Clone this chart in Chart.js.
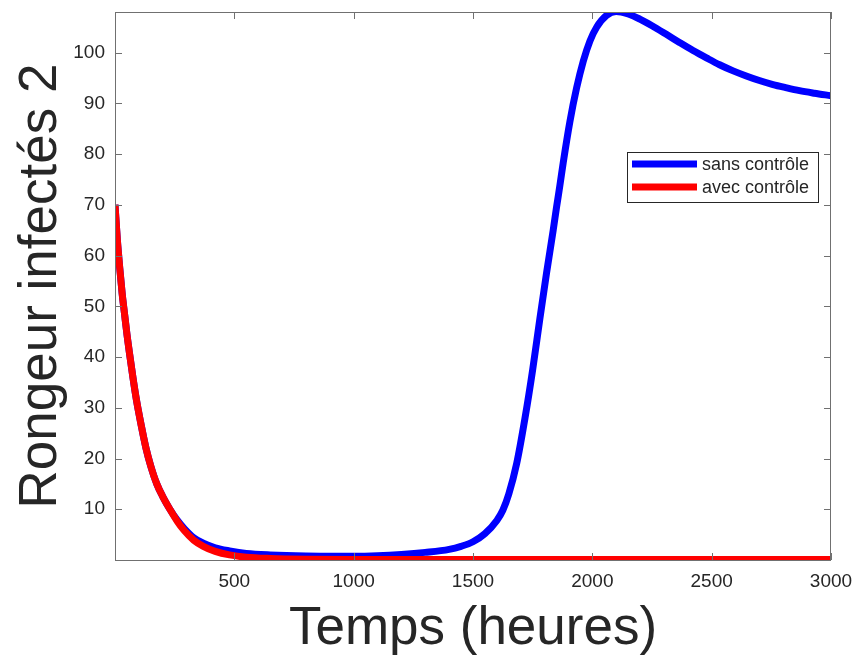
<!DOCTYPE html>
<html>
<head>
<meta charset="utf-8">
<script src="https://cdn.jsdelivr.net/npm/chart.js@4.4.1/dist/chart.umd.min.js"></script>
<style>
html,body{margin:0;padding:0;background:#fff;}
#wrap{width:860px;height:661px;}
</style>
</head>
<body>
<div id="wrap"><canvas id="c" width="860" height="661"></canvas></div>
<script>
// ---- data ----
const tempsSans = [0,10,20,30,40,50,60,75,90,110,130,150,175,200,230,260,290,330,370,420,480,550,650,800,1000,1100,1200,1300,1400,1450,1500,1550,1600,1625,1650,1683,1718,1750,1780,1808,1836,1850,1864,1878,1906,1934,1962,1990,2018,2059,2100,2150,2199,2250,2310,2365,2422,2480,2533,2590,2645,2700,2757,2810,2868,2930,3000];
const sansControle = [70,63,57.5,52.5,48.5,44.5,41,36,31.5,26.5,22,18.5,15,12.5,10,7.9,6.2,4.4,3.3,2.4,1.8,1.3,1.0,0.8,0.75,0.85,1.1,1.5,2.1,2.7,3.6,5.2,7.8,9.8,13,19,28,37.5,47.5,56.5,65,69.5,73.8,78.3,86.4,93,98.3,102.3,105,107.3,108.1,107.6,106.6,105.3,103.6,102.0,100.4,98.9,97.6,96.4,95.4,94.5,93.7,93.1,92.5,92.0,91.5];
const tempsAvec = [0,10,20,30,40,50,60,75,90,110,130,150,175,200,230,260,290,330,370,420,480,550,650,800,1000,1500,2000,2500,3000];
const avecControle = [70,63,57.5,52.5,48.5,44.5,41,36,31.5,26.5,22,18.5,15,12.5,10,7.7,5.8,3.9,2.7,1.7,1.0,0.55,0.3,0.15,0.1,0.1,0.1,0.1,0.1];
const xTicks = [500,1000,1500,2000,2500,3000];
const yTicks = [10,20,30,40,50,60,70,80,90,100];
const seriesLabels = ['sans contrôle','avec contrôle'];
const xTitle = 'Temps (heures)';
const yTitle = 'Rongeur infectés 2';

const FONT = "'Liberation Sans', Arial, Helvetica, sans-serif";
const TXT = '#262626';

function pts(xs, ys){ return xs.map((x,i)=>({x:x, y:ys[i]})); }
function noPad(s){ s.paddingTop = 0; s.paddingBottom = 0; s.paddingLeft = 0; s.paddingRight = 0; }

const boxPlugin = {
  id:'matlabBox',
  afterDraw(chart){
    const {ctx, chartArea:a, scales} = chart;
    ctx.save();
    ctx.strokeStyle = '#707070';
    ctx.lineWidth = 1;
    ctx.strokeRect(a.left+0.5, a.top+0.5, a.right-a.left-1, a.bottom-a.top);
    const tl = 7;
    ctx.beginPath();
    xTicks.forEach(v=>{
      const px = Math.round(scales.x.getPixelForValue(v))+0.5;
      ctx.moveTo(px, a.bottom); ctx.lineTo(px, a.bottom-tl);
      ctx.moveTo(px, a.top); ctx.lineTo(px, a.top+tl);
    });
    yTicks.forEach(v=>{
      const py = Math.round(scales.y.getPixelForValue(v))+0.5;
      ctx.moveTo(a.left, py); ctx.lineTo(a.left+tl, py);
      ctx.moveTo(a.right, py); ctx.lineTo(a.right-tl, py);
    });
    ctx.stroke();
    // legend
    const lx = a.right - 204, ly = a.top + 140, lw = 191, lh = 50;
    ctx.fillStyle = '#fff';
    ctx.fillRect(lx, ly, lw, lh);
    ctx.strokeStyle = '#262626';
    ctx.lineWidth = 1;
    ctx.strokeRect(lx+0.5, ly+0.5, lw, lh);
    ctx.font = '18px ' + FONT;
    ctx.textBaseline = 'middle';
    chart.data.datasets.forEach((ds,i)=>{
      const yy = ly + 12 + i*23;
      ctx.strokeStyle = ds.borderColor;
      ctx.lineWidth = 7;
      ctx.beginPath(); ctx.moveTo(lx+5, yy); ctx.lineTo(lx+70, yy); ctx.stroke();
      ctx.fillStyle = TXT;
      ctx.fillText(ds.label, lx+75, yy+1);
    });
    ctx.restore();
  }
};

new Chart(document.getElementById('c'), {
  type:'line',
  data:{
    datasets:[
      {label:seriesLabels[0], data:pts(tempsSans,sansControle), borderColor:'#0000ff', backgroundColor:'#0000ff', borderWidth:7, pointRadius:0, cubicInterpolationMode:'monotone', order:2},
      {label:seriesLabels[1], data:pts(tempsAvec,avecControle), borderColor:'#ff0000', backgroundColor:'#ff0000', borderWidth:7, pointRadius:0, cubicInterpolationMode:'monotone', order:1}
    ]
  },
  options:{
    responsive:false,
    animation:false,
    devicePixelRatio:1,
    layout:{autoPadding:false, padding:{top:12,right:29,left:0,bottom:0}},
    plugins:{legend:{display:false}, tooltip:{enabled:false}},
    scales:{
      x:{
        type:'linear', min:0, max:3000,
        grid:{display:false, drawTicks:false}, border:{display:false},
        afterBuildTicks(s){ s.ticks = xTicks.map(v=>({value:v})); },
        ticks:{color:TXT, font:{family:FONT, size:19}, padding:10, maxRotation:0, autoSkip:false, callback:(v)=>String(v)},
        title:{display:true, text:xTitle, color:TXT, font:{family:FONT, size:53}, padding:{top:0,bottom:0}},
        afterFit(s){ s.height = 101; noPad(s); }
      },
      y:{
        type:'linear', min:0, max:108,
        grid:{display:false, drawTicks:false}, border:{display:false},
        afterBuildTicks(s){ s.ticks = yTicks.map(v=>({value:v})); },
        ticks:{color:TXT, font:{family:FONT, size:19}, padding:10, autoSkip:false, callback:(v)=>String(v)},
        title:{display:true, text:yTitle, color:TXT, font:{family:FONT, size:53}, padding:{top:10,bottom:0}},
        afterFit(s){ s.width = 115; noPad(s); }
      }
    }
  },
  plugins:[boxPlugin]
});
</script>
</body>
</html>
